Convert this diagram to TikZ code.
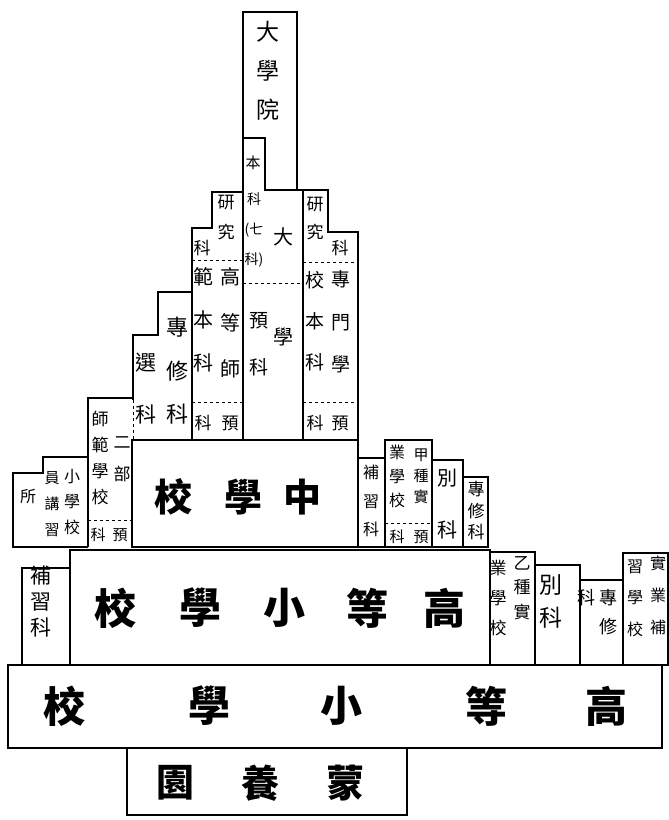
\documentclass[tikz,border=0pt]{standalone}
\usepackage{fontspec}
\newfontfamily\cjk{Noto Sans CJK TC}
\tikzset{
        wall/.style={draw=black, line width=1.3pt, line join=miter},
        split/.style={draw=black, line width=1pt, dash pattern=on 3pt off 3pt},
        col/.style 2 args={font=\cjk\fontsize{#1}{#2}\selectfont, align=center, inner sep=0pt},
        big/.style={font=\cjk\bfseries\fontsize{#1}{#1}\selectfont, inner sep=0pt}
          }
\begin{document}
\begin{tikzpicture}[x=1pt, y=-1pt]
            \useasboundingbox (0,0) rectangle (669,820);
            % university hall and university
            \draw[wall] (243,440) -- (243,12) -- (297,12) -- (297,190);
            \draw[wall] (243,138) -- (265,138) -- (265,190) -- (303,190) -- (303,440);
            \draw[split] (243,283) -- (303,283);
            % higher normal school
            \draw[wall] (243,192) -- (212,192) -- (212,228) -- (192,228) -- (192,440);
            \draw[split] (192,260) -- (243,260);
            \draw[split] (192,402) -- (243,402);
            % special and elective course
            \draw[wall] (192,292) -- (158,292) -- (158,335) -- (133,335) -- (133,400);
            \draw[split] (133,400) -- (133,440);
            % specialist school
            \draw[wall] (303,190) -- (328,190) -- (328,232) -- (358,232) -- (358,440);
            \draw[split] (303,262) -- (358,262);
            \draw[split] (303,402) -- (358,402);
            % middle school row
            \draw[wall] (132,440) rectangle (358,547);
            \draw[wall] (132,398) -- (88,398) -- (88,547);
            \draw[split] (88,520) -- (132,520);
            \draw[wall] (88,457) -- (43,457) -- (43,473) -- (13,473) -- (13,547) -- (88,547);
            \draw[wall] (358,458) -- (385,458) -- (385,547);
            \draw[wall] (385,547) -- (385,440) -- (432,440) -- (432,547);
            \draw[split] (385,523) -- (432,523);
            \draw[wall] (432,460) -- (463,460) -- (463,547);
            \draw[wall] (463,477) -- (488,477) -- (488,547) -- (358,547);
            % higher primary row
            \draw[wall] (70,550) rectangle (490,665);
            \draw[wall] (70,568) -- (22,568) -- (22,665);
            \draw[wall] (490,552) -- (535,552) -- (535,665);
            \draw[wall] (535,565) -- (580,565) -- (580,665);
            \draw[wall] (580,580) -- (623,580) -- (623,665);
            \draw[wall] (623,665) -- (623,553) -- (668,553) -- (668,665) -- (623,665);
            % lowest rows
            \draw[wall] (8,665) rectangle (662,748);
            \draw[wall] (127,748) rectangle (407,815);

            % texts, top part
            \node[col={23}{39}] (hall) at (268,71) {大\\學\\院};
            \node[col={15}{15}] (uben) at (253,163) {本};
            \node[col={14}{30}] (useven) at (254,230) {科\\(七\\科)};
            \node[col={20}{100}] (uname) at (283,287) {大\\學};
            \node[col={19}{47}] (uprep) at (259,344) {預\\科};
            \node[col={17}{30}] (hnres) at (226,218) {研\\究};
            \node[col={17}{17}] (hnresk) at (202,248) {科};
            \node[col={20}{46}] (hnmainA) at (230,323) {高\\等\\師};
            \node[col={20}{43}] (hnmainB) at (203,320) {範\\本\\科};
            \node[col={17}{17}] (hnprepA) at (230,423) {預};
            \node[col={17}{17}] (hnprepB) at (203,423) {科};
            \node[col={22}{43.5}] (spec) at (177,371) {專\\修\\科};
            \node[col={21}{52}] (elect) at (146,389) {選\\科};
            \node[col={17}{28}] (smres) at (315,219) {研\\究};
            \node[col={17}{17}] (smresk) at (340,248) {科};
            \node[col={19}{42.5}] (smmainA) at (341,322) {專\\門\\學};
            \node[col={19}{41}] (smmainB) at (315,321) {校\\本\\科};
            \node[col={17}{17}] (smprepA) at (340,423) {預};
            \node[col={17}{17}] (smprepB) at (315,423) {科};
            % middle school row
            \foreach \c/\x [count=\i] in {校/173,學/243,中/302}
              \node[big=38] (mid\i) at (\x,497) {\c};
            \node[col={17}{25.7}] (nsA) at (100,458) {師\\範\\學\\校};
            \node[col={17}{32}] (nsB) at (122,459) {二\\部};
            \node[col={15}{15}] (nsprepA) at (120,535) {預};
            \node[col={15}{15}] (nsprepB) at (98,535) {科};
            \node[col={16}{25.5}] (trA) at (72,502) {小\\學\\校};
            \node[col={15}{26}] (trB) at (52,504) {員\\講\\習};
            \node[col={16}{16}] (trC) at (28,497) {所};
            \node[col={16}{28.5}] (msup) at (371,501) {補\\習\\科};
            \node[col={15}{21}] (vocAa) at (421,476) {甲\\種\\實};
            \node[col={16}{24}] (vocAb) at (397,476) {業\\學\\校};
            \node[col={15}{15}] (vocAprepA) at (421,537) {預};
            \node[col={15}{15}] (vocAprepB) at (397,537) {科};
            \node[col={20}{52}] (msextra) at (447,504) {別\\科};
            \node[col={17}{21.5}] (msspec) at (476,511) {專\\修\\科};
            % higher primary row
            \foreach \c/\x [count=\i] in {校/115,學/200,小/284,等/367,高/444}
              \node[big=42] (hp\i) at (\x,608) {\c};
            \node[col={21}{26}] (hpsup) at (41,601) {補\\習\\科};
            \node[col={17}{24.5}] (vocBa) at (522,588) {乙\\種\\實};
            \node[col={17}{30}] (vocBb) at (498,598) {業\\學\\校};
            \node[col={23}{33}] (hpextra) at (551,601) {別\\科};
            \node[col={18}{29}] (hpspecA) at (608,612) {專\\修};
            \node[col={18}{18}] (hpspecB) at (586,598) {科};
            \node[col={16}{32}] (vsupA) at (658,595) {實\\業\\補};
            \node[col={16}{31.5}] (vsupB) at (635,598) {習\\學\\校};
            % lowest rows
            \foreach \c/\x [count=\i] in {校/64,學/209,小/341,等/486,高/606}
              \node[big=42] (lp\i) at (\x,706) {\c};
            \foreach \c/\x [count=\i] in {園/175,養/260,蒙/345}
              \node[big=38] (kg\i) at (\x,783) {\c};
          \end{tikzpicture}
\end{document}
